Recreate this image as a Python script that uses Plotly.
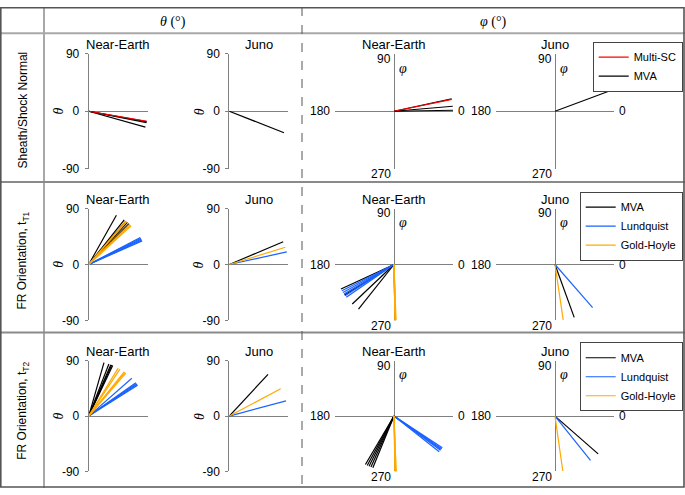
import numpy as np
import plotly.graph_objects as go

W, H = 685, 495

# ---------------- data (degrees) ----------------
row_labels = ["Sheath/Shock Normal", "FR Orientation, t<sub>T1</sub>", "FR Orientation, t<sub>T2</sub>"]
locations = ["Near-Earth", "Juno"]
theta_ticks = ["-90", "0", "90"]
phi_ticks = ["0", "90", "180", "270"]

# Row 1: sheath / shock normal
sn_ne_multisc_theta = [-10]
sn_ne_multisc_phi = [12]
sn_ne_mva_theta = [-10.5, -11.5, -16]
sn_ne_mva_phi = [12.5, 5, 1]
sn_juno_mva_theta = [-22]
sn_juno_mva_phi = [21]

# Row 2: flux rope orientation t_T1
t1_ne_mva_theta = [62, 53, 51, 49, 47]
t1_ne_mva_phi = [206, 225, 233, 213, 271]
t1_ne_lq_theta = [25, 26, 27, 28, 29]
t1_ne_lq_phi = [208, 210, 212, 214, 216]
t1_ne_gh_theta = [44, 45, 46, 50, 51]
t1_ne_gh_phi = [271, 271.5, 271, 272, 271.5]
t1_juno_mva_theta = [24]
t1_juno_mva_phi = [289]
t1_juno_lq_theta = [13]
t1_juno_lq_phi = [309.6]
t1_juno_gh_theta = [18]
t1_juno_gh_phi = [278]

# Row 3: flux rope orientation t_T2
t2_ne_mva_theta = [75, 70, 68, 66, 67]
t2_ne_mva_phi = [241, 243, 245, 249, 247]
t2_ne_lq_theta = [43, 36, 35, 37, 34]
t2_ne_lq_phi = [324, 320, 322, 325, 323]
t2_ne_gh_theta = [60, 58, 52, 51, 53]
t2_ne_gh_phi = [271, 271.5, 272, 271, 272]
t2_juno_mva_theta = [49]
t2_juno_mva_phi = [317]
t2_juno_lq_theta = [16]
t2_juno_lq_phi = [307]
t2_juno_gh_theta = [29.5]
t2_juno_gh_phi = [277.6]

COL = {"Multi-SC": "#ff0000", "MVA": "#000000", "Lundquist": "#1a62ff", "Gold-Hoyle": "#ffaa00"}

# row -> list of (method, NE theta, NE phi, Juno theta, Juno phi)
rows_data = [
    [("MVA", sn_ne_mva_theta, sn_ne_mva_phi, sn_juno_mva_theta, sn_juno_mva_phi),
     ("Multi-SC", sn_ne_multisc_theta, sn_ne_multisc_phi, [], [])],
    [("MVA", t1_ne_mva_theta, t1_ne_mva_phi, t1_juno_mva_theta, t1_juno_mva_phi),
     ("Lundquist", t1_ne_lq_theta, t1_ne_lq_phi, t1_juno_lq_theta, t1_juno_lq_phi),
     ("Gold-Hoyle", t1_ne_gh_theta, t1_ne_gh_phi, t1_juno_gh_theta, t1_juno_gh_phi)],
    [("MVA", t2_ne_mva_theta, t2_ne_mva_phi, t2_juno_mva_theta, t2_juno_mva_phi),
     ("Lundquist", t2_ne_lq_theta, t2_ne_lq_phi, t2_juno_lq_theta, t2_juno_lq_phi),
     ("Gold-Hoyle", t2_ne_gh_theta, t2_ne_gh_phi, t2_juno_gh_theta, t2_juno_gh_phi)],
]
legend_rank = {"Multi-SC": 1, "MVA": 2, "Lundquist": 3, "Gold-Hoyle": 4}

# ---------------- geometry (pixels) ----------------
col_ox = [88.7, 229.3, 394.0, 555.0]
row_oy = [107.3, 265.0, 421.0]
row_ry = [59.0, 57.5, 57.0]
RX = 59.0
GRAY = "#808080"
SANS = "Liberation Sans, Arial, sans-serif"
SERIF = "Liberation Serif, Times New Roman, serif"


def fx(px):
    return px / W


def fy(py):
    return 1 - py / H


def seg(angles):
    xs, ys = [], []
    for a in angles:
        r = np.deg2rad(a)
        xs += [0, float(np.cos(r)), None]
        ys += [0, float(np.sin(r)), None]
    return xs, ys


def text(px, py, s, size=12, family=SANS, xanchor="center", yanchor="middle", angle=0):
    return dict(x=fx(px), y=fy(py), xref="paper", yref="paper", text=s, showarrow=False,
                xanchor=xanchor, yanchor=yanchor, textangle=angle,
                font=dict(family=family, size=size, color="#000"))


fig = go.Figure()
layout = {}
annotations = []
shapes = []
legend_names = ["legend", "legend2", "legend3"]

for r in range(3):
    oy, ry = row_oy[r], row_ry[r]
    for c in range(4):
        idx = r * 4 + c + 1
        xa = "xaxis" if idx == 1 else f"xaxis{idx}"
        ya = "yaxis" if idx == 1 else f"yaxis{idx}"
        xr = "x" if idx == 1 else f"x{idx}"
        yr = "y" if idx == 1 else f"y{idx}"
        ox = col_ox[c]
        is_theta = c < 2
        if is_theta:
            layout[xa] = dict(domain=[fx(ox), fx(ox + RX)], range=[0, 1], visible=False,
                              anchor=yr, fixedrange=True)
            layout[ya] = dict(domain=[fy(oy + ry), fy(oy - ry)], range=[-1, 1], anchor=xr,
                              showline=True, linecolor=GRAY, linewidth=1, ticks="outside",
                              ticklen=3, tickcolor=GRAY, tickvals=[-1, 0, 1], ticktext=theta_ticks,
                              tickfont=dict(family=SANS, size=12, color="#000"),
                              showgrid=False, zeroline=True, zerolinecolor=GRAY,
                              zerolinewidth=1, fixedrange=True, ticklabelstandoff=3)
            annotations.append(text(ox - 30.4, oy, "<i>θ</i>", 14, SERIF, angle=-90))
            tcx = ox + RX / 2
        else:
            layout[xa] = dict(domain=[fx(ox - RX), fx(ox + RX)], range=[-1, 1], anchor=yr,
                              showgrid=False, showline=False, showticklabels=False, ticks="",
                              zeroline=True, zerolinecolor=GRAY, zerolinewidth=1, fixedrange=True)
            layout[ya] = dict(domain=[fy(oy + ry), fy(oy - ry)], range=[-1, 1], anchor=xr,
                              showgrid=False, showline=False, showticklabels=False, ticks="",
                              zeroline=True, zerolinecolor=GRAY, zerolinewidth=1, fixedrange=True)
            annotations.append(text(ox + 9.3, oy - ry + 14.5, "<i>φ</i>", 14, SERIF))
            annotations += [
                text(ox + RX + 3, oy, phi_ticks[0], xanchor="left"),
                text(ox - 1.5, oy - ry + 5, phi_ticks[1], xanchor="right"),
                text(ox - RX - 3, oy, phi_ticks[2], xanchor="right"),
                text(ox - 1.5, oy + ry + 5.3, phi_ticks[3], xanchor="right"),
            ]
            tcx = ox
        annotations.append(text(tcx, oy - ry - 9.5, locations[c % 2], 13))
        for (method, ne_t, ne_p, ju_t, ju_p) in rows_data[r]:
            vals = [ne_t, ju_t, ne_p, ju_p][c]
            if len(vals) == 0:
                continue
            xs, ys = seg(vals)
            fig.add_trace(go.Scatter(
                x=xs, y=ys, xaxis=xr, yaxis=yr, mode="lines",
                line=dict(color=COL[method], width=1.2),
                name=method, legendgroup=f"{r}-{method}", showlegend=(c == 2),
                legend=legend_names[r], legendrank=legend_rank[method],
                hoverinfo="skip"))

annotations.append(text(173, 15.5, "<i>θ</i> (°)", 14, SERIF))
annotations.append(text(493, 15.5, "<i>φ</i> (°)", 14, SERIF))
for r, yc in enumerate([106.5, 261, 415.5]):
    annotations.append(text(23, yc, row_labels[r], 12, angle=-90))


def pline(x0, y0, x1, y1, color, width, dash="solid"):
    shapes.append(dict(type="line", xref="paper", yref="paper", x0=fx(x0), y0=fy(y0),
                       x1=fx(x1), y1=fy(y1), line=dict(color=color, width=width, dash=dash)))


pline(44, 0, 44, H, "#a8a8a8", 2)
pline(0, 27, W, 27, "#a8a8a8", 2)
pline(0, 180, W, 180, "#8a8a8a", 2)
pline(0, 335, W, 335, "#8a8a8a", 2)
pline(302, 0, 302, H, "#555555", 1, "dash")
shapes.append(dict(type="rect", xref="paper", yref="paper", x0=fx(0.8), y0=fy(0.8),
                   x1=fx(W - 1), y1=fy(H - 1), line=dict(color="#555555", width=1.6)))

leg_common = dict(xanchor="right", yanchor="top", bgcolor="white", bordercolor="#444444",
                  borderwidth=1, font=dict(family=SANS, size=11, color="#000"),
                  tracegroupgap=0, itemwidth=30, itemclick=False, itemdoubleclick=False)
layout["legend"] = dict(x=fx(682.7), y=fy(35.7), **leg_common)
layout["legend2"] = dict(x=fx(682.7), y=fy(190), **leg_common)
layout["legend3"] = dict(x=fx(682.7), y=fy(345), **leg_common)

fig.update_layout(width=W, height=H, margin=dict(l=0, r=0, t=0, b=0),
                  paper_bgcolor="white", plot_bgcolor="rgba(0,0,0,0)",
                  annotations=annotations, shapes=shapes, showlegend=True, **layout)

css_fix = (
    "var s=document.createElement('style');"
    "s.innerHTML='html,body{margin:0!important;padding:0!important;overflow:hidden;"
    "width:685px;height:495px;} body>div{position:absolute;top:0;left:0;margin:0;padding:0;}';"
    "document.head.appendChild(s);"
)
fig.write_html("out.html", config={"displayModeBar": False, "staticPlot": True,
                                   "responsive": False},
               post_script=css_fix)
